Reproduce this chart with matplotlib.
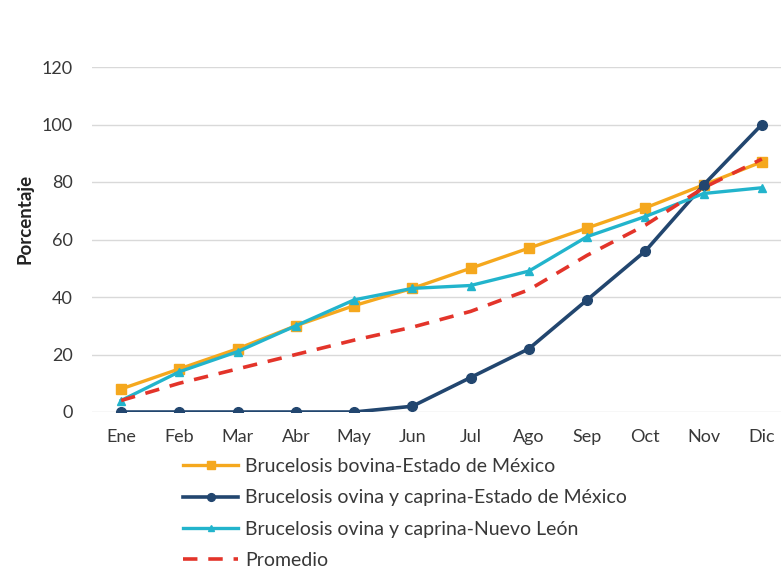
import matplotlib
matplotlib.use("Agg")
import matplotlib.pyplot as plt
import numpy as np

plt.rcParams['font.family'] = ['Lato', 'DejaVu Sans']

meses = ['Ene', 'Feb', 'Mar', 'Abr', 'May', 'Jun', 'Jul', 'Ago', 'Sep', 'Oct', 'Nov', 'Dic']
bovina_edomex = [8, 15, 22, 30, 37, 43, 50, 57, 64, 71, 79, 87]
ovina_edomex = [0, 0, 0, 0, 0, 2, 12, 22, 39, 56, 79, 100]
ovina_nl = [4, 14, 21, 30, 39, 43, 44, 49, 61, 68, 76, 78]
promedio = [4, 10, 15, 20, 25, 29.5, 35, 42.5, 54.5, 65, 78, 88]

c_bov = '#F5A81E'
c_ovm = '#22466F'
c_onl = '#22B4CC'
c_prom = '#E3342A'
c_txt = '#383838'

fig = plt.figure(figsize=(7.81, 5.69), dpi=100)
ax = fig.add_axes([92 / 781, 157 / 569, 699 / 781, 345 / 569])

x = np.arange(len(meses))
ax.plot(x, bovina_edomex, color=c_bov, lw=2.4, marker='s', ms=7,
        label='Brucelosis bovina-Estado de México')
ax.plot(x, ovina_edomex, color=c_ovm, lw=2.6, marker='o', ms=7,
        label='Brucelosis ovina y caprina-Estado de México')
ax.plot(x, ovina_nl, color=c_onl, lw=2.4, marker='^', ms=6,
        label='Brucelosis ovina y caprina-Nuevo León')
ax.plot(x, promedio, color=c_prom, lw=2.6, ls=(0, (4, 3)),
        label='Promedio')

ax.set_xlim(-0.5, 11.5)
ax.set_ylim(0, 120)
ax.set_yticks(range(0, 121, 20))
ax.set_xticks(x)
ax.set_xticklabels(meses)
ax.grid(axis='y', color='#D9D9D9', lw=1)
ax.set_axisbelow(True)
for s in ax.spines.values():
    s.set_visible(False)
ax.tick_params(length=0, labelsize=13, colors=c_txt)
ax.tick_params(axis='x', pad=12)
ax.tick_params(axis='y', pad=14)
ax.set_ylabel('Porcentaje', fontsize=13.5, fontweight='bold', color='#222222')
ax.yaxis.set_label_coords(-0.083, 0.56)

leg = fig.legend(loc='upper left', bbox_to_anchor=(183 / 781, 1 - 458 / 569),
                 frameon=False, fontsize=14, handlelength=2.85, labelspacing=0.74,
                 handletextpad=0.35, borderpad=0, borderaxespad=0, markerscale=0.8)
for t in leg.get_texts():
    t.set_color(c_txt)

fig.savefig('out.png', dpi=100)
